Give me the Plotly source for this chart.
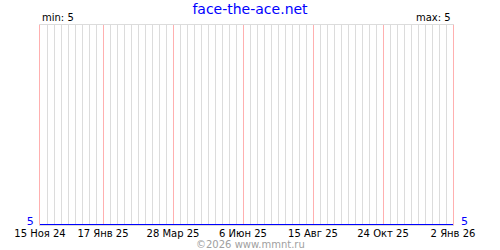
import plotly.graph_objects as go
import pandas as pd

# Data
dates = ["2024-11-15", "2026-01-02"]
values = [5, 5]
tick_dates = ["2024-11-15", "2025-01-17", "2025-03-28", "2025-06-06",
              "2025-08-15", "2025-10-24", "2026-01-02"]
tick_labels = ["15 Ноя 24", "17 Янв 25", "28 Мар 25", "6 Июн 25",
               "15 Авг 25", "24 Окт 25", "2 Янв 26"]
title_text = "face-the-ace.net"
min_val = 5
max_val = 5

weekly = [d.strftime("%Y-%m-%d") for d in pd.date_range(dates[0], dates[-1], freq="7D")]
minor_dates = [d for d in weekly if d not in tick_dates]

FONT = "DejaVu Sans"
PINK = "#ffb0b0"
GRAY = "#dcdcdc"
fig = go.Figure()
fig.add_trace(go.Scatter(x=dates, y=values, mode="lines", yaxis="y2",
                         line=dict(color="rgba(0,0,0,0)", width=0),
                         hoverinfo="skip"))
fig.add_trace(go.Scatter(x=dates, y=values, mode="lines",
                         line=dict(color="#0000ff", width=2),
                         hoverinfo="skip", cliponaxis=False))

fig.update_layout(
    width=500, height=250,
    margin=dict(l=40, r=47, t=25, b=25),
    paper_bgcolor="white", plot_bgcolor="white",
    showlegend=False,
    font=dict(family=FONT, size=10, color="black"),
    title=dict(text=title_text, x=0.5, xanchor="center", y=0.985, yanchor="top",
               font=dict(family=FONT, size=14, color="#0000ff")),
    xaxis=dict(type="date", range=[dates[0], dates[-1]],
               tickvals=tick_dates, ticktext=tick_labels,
               showgrid=True, gridcolor=PINK, gridwidth=1,
               ticks="", showline=True, mirror=True, linecolor=GRAY, linewidth=1,
               zeroline=False, layer="below traces",
               tickfont=dict(family=FONT, size=10, color="black"),
               ticklabelstandoff=-1,
               minor=dict(tickmode="array", tickvals=minor_dates,
                          showgrid=True, gridcolor=GRAY, gridwidth=1)),
    yaxis=dict(range=[5, 6], tickvals=[5], ticktext=[str(min_val)],
               showgrid=False, zeroline=False, layer="below traces",
               showline=True, mirror=True, linecolor=PINK, linewidth=1,
               tickfont=dict(family=FONT, size=11, color="#0000ff"),
               ticks="", ticklabelshift=-4, ticklabelstandoff=3, fixedrange=True),
    yaxis2=dict(range=[5, 6], overlaying="y", side="right",
                tickvals=[5], ticktext=[str(max_val)], showgrid=False,
                zeroline=False, tickfont=dict(family=FONT, size=11, color="#0000ff"),
                ticks="", ticklabelshift=-4, ticklabelstandoff=7),
    annotations=[
        dict(text=f"min: {min_val}", xref="paper", yref="paper", x=0, y=1,
             xanchor="left", yanchor="bottom", showarrow=False,
             font=dict(family=FONT, size=10, color="black")),
        dict(text=f"max: {max_val}", xref="paper", yref="paper", x=1, y=1,
             xanchor="right", yanchor="bottom", showarrow=False,
             font=dict(family=FONT, size=10, color="black")),
        dict(text="©2026 www.mmnt.ru", xref="paper", yref="paper", x=0.5 * (1 + 7 / 413), y=0,
             xanchor="center", yanchor="top", showarrow=False, yshift=-12,
             font=dict(family=FONT, size=10, color="#a0a0a0")),
    ],
)

fig.write_html("out.html")
